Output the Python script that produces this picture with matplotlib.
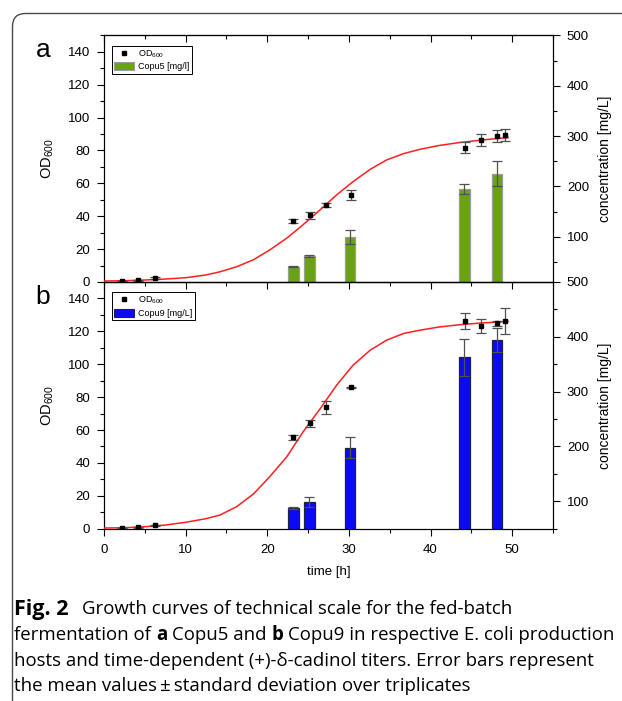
import numpy as np
import matplotlib
matplotlib.use('Agg')
import matplotlib.pyplot as plt
from matplotlib.lines import Line2D
from matplotlib.patches import Patch, FancyBboxPatch
from matplotlib.ticker import MultipleLocator

plt.rcParams['font.family'] = 'sans-serif'
plt.rcParams['font.sans-serif'] = ['Liberation Sans', 'DejaVu Sans']
plt.rcParams['mathtext.fontset'] = 'custom'
plt.rcParams['mathtext.rm'] = 'Liberation Sans'
plt.rcParams['mathtext.it'] = 'Liberation Sans:italic'

# --- data ---
t_od = [2.2, 4.2, 6.2, 23.2, 25.2, 27.2, 30.2, 44.2, 46.2, 48.2, 49.1]
od_a = [0.6, 1.0, 2.6, 37.1, 40.6, 46.9, 53.0, 81.8, 86.5, 88.6, 89.4]
od_a_err = [0.2, 0.3, 0.5, 1.0, 2.0, 1.2, 3.1, 3.2, 3.6, 3.7, 3.9]
od_b = [0.4, 0.8, 2.0, 55.7, 64.0, 73.7, 86.0, 126.3, 123.5, 124.9, 126.5]
od_b_err = [0.2, 0.3, 0.5, 1.5, 2.2, 4.0, 0.4, 5.0, 4.3, 1.5, 7.9]

# fitted growth curves
t_fit = [0, 2.5, 5, 7.5, 10, 12.5, 14.2, 16.25, 18.3, 20.3, 22.4, 24.4, 26.5,
         28.5, 30.5, 32.6, 34.6, 36.7, 38.7, 41, 43.5, 46, 48, 49.5]
fit_a = [0.6, 0.8, 1.2, 1.8, 2.6, 4.3, 6.2, 9.3, 13.5, 19.5, 26.7, 34.9, 44.0,
         53.0, 61.0, 68.5, 74.2, 78.1, 80.7, 83.0, 84.8, 86.2, 87.2, 87.8]
fit_b = [0.4, 0.6, 1.2, 2.2, 3.9, 6.1, 8.3, 13.4, 21.1, 31.6, 43.8, 59.0, 73.1,
         87.3, 99.4, 108.5, 114.6, 118.7, 120.7, 122.6, 124.0, 125.0, 125.6, 126.0]

t_bar = [23.2, 25.15, 30.15, 44.15, 48.15]
conc_a = [40.4, 61.6, 99.4, 194.2, 225.2]
conc_a_err = [0.8, 1.5, 14.0, 10.0, 24.8]
conc_b = [87.8, 98.2, 198.0, 362.5, 394.9]
conc_b_err = [2.0, 9.5, 19.2, 34.0, 22.0]

W, H = 622, 701
fig = plt.figure(figsize=(W / 100, H / 100), dpi=100)

# rounded frame around figure + caption
frame = FancyBboxPatch((12.5, -30), 700, H - 13.5 + 30,
                       boxstyle="round,pad=0,rounding_size=13",
                       transform=None, fill=False, edgecolor='#4a4a4a', lw=1.0)
fig.patches.append(frame)

left, right = 104 / W, 553 / W


def panel(top_px, bot_px, od, od_err, fit, conc, conc_err, bar_color, bar_edge,
          conc_label, ylim2, letter, show_x):
    ax = fig.add_axes([left, 1 - bot_px / H, right - left, (bot_px - top_px) / H])
    tw = ax.twinx()
    ax.set_zorder(tw.get_zorder() + 1)
    ax.patch.set_visible(False)

    tw.bar(t_bar, conc, width=1.3, color=bar_color, edgecolor=bar_edge, lw=0.9,
           yerr=conc_err, ecolor='#505050', capsize=3.6,
           error_kw=dict(elinewidth=0.9, capthick=0.9), zorder=2)
    ax.plot(t_fit, fit, color='#ff1f1f', lw=1.1, zorder=3)
    ax.errorbar(t_od, od, yerr=od_err, fmt='s', ms=3.0, color='black',
                ecolor='#505050', elinewidth=0.9, capsize=3.6, capthick=0.9, zorder=4)

    ax.set_xlim(0, 55)
    ax.set_ylim(0, 150)
    tw.set_ylim(*ylim2)

    ax.xaxis.set_major_locator(MultipleLocator(10))
    ax.xaxis.set_minor_locator(MultipleLocator(5))
    ax.yaxis.set_major_locator(MultipleLocator(20))
    ax.yaxis.set_minor_locator(MultipleLocator(10))
    tw.yaxis.set_major_locator(MultipleLocator(100))
    tw.yaxis.set_minor_locator(MultipleLocator(50))

    ax.tick_params(axis='y', which='major', direction='out', length=5, width=0.8,
                   labelsize=9.5, pad=5)
    ax.tick_params(axis='y', which='minor', direction='out', length=3, width=0.8)
    tw.tick_params(axis='y', which='major', direction='out', length=5, width=0.8,
                   labelsize=9.5, pad=5)
    tw.tick_params(axis='y', which='minor', direction='out', length=3, width=0.8)
    if show_x:
        ax.tick_params(axis='x', which='major', direction='out', length=5, width=0.8,
                       labelsize=9.5, pad=6)
        ax.tick_params(axis='x', which='minor', direction='out', length=3, width=0.8)
    else:
        ax.tick_params(axis='x', which='both', bottom=False, labelbottom=False)

    top = ax.secondary_xaxis('top')
    top.xaxis.set_major_locator(MultipleLocator(10))
    top.xaxis.set_minor_locator(MultipleLocator(5))
    top.tick_params(axis='x', which='major', direction='in', length=5, width=0.8,
                    labeltop=False)
    top.tick_params(axis='x', which='minor', direction='in', length=3, width=0.8)

    for a in (ax, tw, top):
        for s in a.spines.values():
            s.set_linewidth(0.8)

    ax.set_ylabel('OD$_{600}$', fontsize=10.5)
    ax.yaxis.set_label_coords(-0.107, 0.5)
    tw.set_ylabel('concentration [mg/L]', fontsize=10)
    tw.yaxis.set_label_coords(1.1, 0.5)

    handles = [Line2D([], [], marker='s', ls='none', color='black', ms=2.5),
               Patch(facecolor=bar_color, edgecolor=bar_edge, lw=0.8)]
    leg = ax.legend(handles, ['OD$_{600}$', conc_label], loc='upper left',
                    bbox_to_anchor=(0.017, 0.959), borderaxespad=0, fontsize=6.5,
                    frameon=True, fancybox=False, framealpha=1, edgecolor='black',
                    handlelength=2.2, handleheight=1.0, handletextpad=0.4,
                    labelspacing=0.25, borderpad=0.3)
    leg.get_frame().set_linewidth(0.7)

    fig.text(43 / W, 1 - ((top_px + 15) / H), letter, fontsize=19,
             ha='center', va='center')
    return ax


panel(35.4, 282, od_a, od_a_err, fit_a, conc_a, conc_a_err, '#6aa312', '#9b9b9b',
      'Copu5 [mg/l]', (10, 500), 'a', False)
ax_b = panel(282, 528.7, od_b, od_b_err, fit_b, conc_b, conc_b_err, '#0a0af5', '#202040',
             'Copu9 [mg/L]', (50, 500), 'b', True)
ax_b.set_xlabel('time [h]', fontsize=9.5)
ax_b.xaxis.set_label_coords(0.5, -0.152)

# caption: runs of (text, bold); line 1 has a larger "Fig. 2" heading
cap_font = ['Open Sans', 'DejaVu Sans']
cap_size = 13.4
baselines = [614.5, 640, 665.5, 691]
renderer = fig.canvas.get_renderer()

fig.text(14 / W, 1 - baselines[0] / H, "Fig. 2", fontsize=15.5, family=cap_font,
         fontweight='bold', va='baseline', ha='left')
fig.text(82 / W, 1 - baselines[0] / H,
         "Growth curves of technical scale for the fed-batch",
         fontsize=cap_size, family=cap_font, va='baseline', ha='left')

cap_lines = [
    [("fermentation of", False), ("a", True), ("Copu5 and", False), ("b", True),
     ("Copu9 in respective E. coli production", False)],
    [("hosts and time-dependent (+)-\u03b4-cadinol titers. Error bars represent", False)],
    [("the mean values\u2009\u00b1\u2009standard deviation over triplicates", False)],
]


def text_width(s, bold):
    t = fig.text(0, 0, s, fontsize=cap_size, family=cap_font,
                 fontweight='bold' if bold else 'normal')
    w = t.get_window_extent(renderer).width
    t.remove()
    return w


space_w = text_width("x x", False) - text_width("xx", False)
for runs, yb in zip(cap_lines, baselines[1:]):
    x = 14.0
    for s, bold in runs:
        t = fig.text(x / W, 1 - yb / H, s, fontsize=cap_size, family=cap_font,
                     fontweight='bold' if bold else 'normal', va='baseline', ha='left')
        x += t.get_window_extent(renderer).width + space_w

fig.savefig('out.png', dpi=100)
